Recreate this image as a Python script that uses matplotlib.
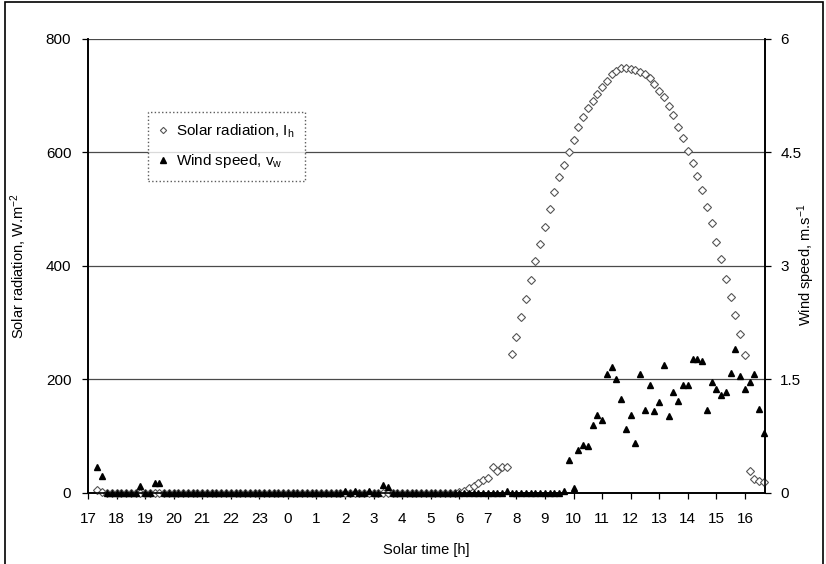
"""Solar radiation and wind speed over one day (solar time)."""

import matplotlib
matplotlib.use("Agg")
import matplotlib.pyplot as plt
import numpy as np
from matplotlib.lines import Line2D
from matplotlib.patches import Rectangle

plt.rcParams["font.family"] = ["Liberation Sans", "DejaVu Sans"]
plt.rcParams["mathtext.fontset"] = "custom"
plt.rcParams["mathtext.rm"] = "Liberation Sans"
plt.rcParams["mathtext.it"] = "Liberation Sans"

# readings every 10 min, first one at 17:20 (elapsed hours from 17:00)
START_H = 17
FIRST_SAMPLE = 2
STEP_MIN = 10

# solar radiation, W/m2 (one row per hour)
radiation = [
    5, 2, 0, 0,
    0, 0, 0, 0, 0, 0,
    0, 0, 0, 0, 0, 0,
    0, 0, 0, 0, 0, 0,
    0, 0, 0, 0, 0, 0,
    0, 0, 0, 0, 0, 0,
    0, 0, 0, 0, 0, 0,
    0, 0, 0, 0, 0, 0,
    0, 0, 0, 0, 0, 0,
    0, 0, 0, 0, 0, 0,
    0, 0, 0, 0, 0, 0,
    0, 0, 0, 0, 0, 0,
    0, 0, 0, 0, 0, 0,
    1, 4, 8, 12, 17, 22,
    26, 45, 38, 45, 46, 244,
    274, 310, 342, 376, 408, 439,
    469, 501, 531, 557, 577, 601,
    622, 644, 662, 678, 690, 703,
    715, 725, 738, 744, 748, 748,
    747, 745, 741, 738, 732, 720,
    709, 697, 682, 666, 645, 626,
    603, 581, 559, 534, 503, 475,
    443, 412, 377, 345, 314, 280,
    243, 38, 24, 21, 20,
]

# wind speed, m/s (one row per hour)
wind = [
    0.34, 0.22, 0, 0,
    0, 0, 0, 0, 0, 0.09,
    0, 0, 0.13, 0.13, 0, 0,
    0, 0, 0, 0, 0, 0,
    0, 0, 0, 0, 0, 0,
    0, 0, 0, 0, 0, 0,
    0, 0, 0, 0, 0, 0,
    0, 0, 0, 0, 0, 0,
    0, 0, 0, 0, 0, 0,
    0.03, 0, 0.03, 0, 0, 0.03,
    0, 0, 0.11, 0.08, 0, 0,
    0, 0, 0, 0, 0, 0,
    0, 0, 0, 0, 0, 0,
    0, 0, 0, 0, 0, 0,
    0, 0, 0, 0, 0.03, 0,
    0, 0, 0, 0, 0, 0,
    0, 0, 0, 0, 0.02, 0.44,
    0.06, 0.57, 0.63, 0.62, 0.90, 1.03,
    0.97, 1.57, 1.66, 1.51, 1.24, 0.84,
    1.03, 0.66, 1.57, 1.09, 1.43, 1.08,
    1.20, 1.69, 1.02, 1.33, 1.21, 1.43,
    1.42, 1.77, 1.77, 1.74, 1.10, 1.47,
    1.37, 1.30, 1.33, 1.59, 1.90, 1.55,
    1.37, 1.47, 1.57, 1.11, 0.79,
]

hour_labels = [str((START_H + i) % 24) for i in range(24)]
rad_ticks = [0, 200, 400, 600, 800]
wind_ticks = [0, 1.5, 3, 4.5, 6]
wind_tick_labels = ["0", "1.5", "3", "4.5", "6"]

elapsed = (FIRST_SAMPLE + np.arange(len(radiation))) * STEP_MIN / 60.0

fig = plt.figure(figsize=(8.26, 5.64), dpi=100)
ax = fig.add_axes([0.1065, 0.126, 0.8195, 0.805])
ax2 = ax.twinx()

ax.set_xlim(0, 23.7)
ax.set_ylim(0, 800)
ax2.set_ylim(0, 6)

for y in rad_ticks[1:]:
    ax.axhline(y, color="#4a4a4a", lw=0.9, zorder=1)

ax.plot(elapsed, radiation, linestyle="none", marker="D", markersize=3.6,
        markerfacecolor="white", markeredgecolor="#555555",
        markeredgewidth=0.8, clip_on=False, zorder=3)
ax2.plot(elapsed, wind, linestyle="none", marker="^", markersize=4.8,
         color="black", clip_on=False, zorder=4)

ax.set_xticks(range(24))
ax.set_xticklabels(hour_labels, fontsize=11)
ax.set_yticks(rad_ticks)
ax.set_yticklabels([str(v) for v in rad_ticks], fontsize=11)
ax2.set_yticks(wind_ticks)
ax2.set_yticklabels(wind_tick_labels, fontsize=11)

for a in (ax, ax2):
    a.tick_params(direction="out", length=4, width=0.9)
    a.spines["top"].set_visible(False)
    for side in ("left", "right", "bottom"):
        a.spines[side].set_linewidth(1.2)
ax.tick_params(axis="x", pad=10)
ax.tick_params(axis="y", pad=8)
ax2.tick_params(axis="y", pad=7)

ax.set_xlabel("Solar time [h]", fontsize=10.5, labelpad=12)
ax.set_ylabel("Solar radiation, W.m$^{-2}$", fontsize=10.5, labelpad=12)
fig.text(0.976, 0.53, "Wind speed, m.s$^{-1}$", fontsize=10.5,
         rotation=90, ha="center", va="center")

handles = [
    Line2D([], [], linestyle="none", marker="D", markersize=3.2,
           markerfacecolor="white", markeredgecolor="#555555",
           markeredgewidth=0.8, label="Solar radiation, I$_{\\mathrm{h}}$"),
    Line2D([], [], linestyle="none", marker="^", markersize=4.5,
           color="black", label="Wind speed, v$_{\\mathrm{w}}$"),
]
leg = ax2.legend(handles=handles, loc="upper left",
                 bbox_to_anchor=(0.089, 0.84), borderaxespad=0,
                 fontsize=11, frameon=True, fancybox=False,
                 handlelength=0.6, handletextpad=0.5,
                 borderpad=0.7, labelspacing=0.8)
leg.get_frame().set_edgecolor("#333333")
leg.get_frame().set_linestyle(":")
leg.get_frame().set_linewidth(1.0)

fig.patches.append(Rectangle((0.006, -0.05), 0.99, 1.046, fill=False,
                             lw=1.2, edgecolor="black",
                             transform=fig.transFigure, figure=fig))

fig.savefig("out.png", dpi=100)
